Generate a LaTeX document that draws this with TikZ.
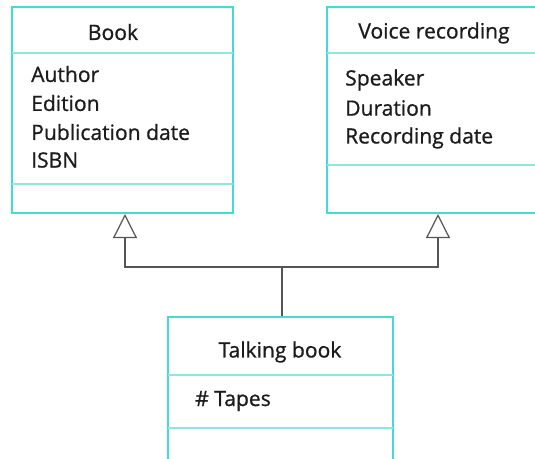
\documentclass[tikz,border=0pt]{standalone}
\usepackage{fontspec}
\setmainfont{Open Sans}
\newfontfamily\classfont[FakeBold=0.8]{Open Sans}
\usepackage{xcolor}
\definecolor{BoxCyan}{HTML}{3FDED2}
\definecolor{RuleCyan}{HTML}{8FE6DE}
\definecolor{LinkGray}{HTML}{555555}
\definecolor{InkBlack}{HTML}{1C1C1C}
\usepackage{tikz}
\usetikzlibrary{arrows.meta}

\begin{document}
\begin{tikzpicture}[x=0.02cm, y=-0.02cm,
  classbox/.style={draw=BoxCyan, line width=1.6pt, inner sep=0pt},
  divider/.style={RuleCyan, line width=0.8pt},
  title/.style={font=\fontsize{12}{14}\classfont, text=InkBlack},
  attr/.style={font=\fontsize{12}{14}\classfont, text=InkBlack, anchor=west},
  inherit/.style={LinkGray, line width=0.7pt,
    -{Triangle[open, length=0.48cm, width=0.48cm]}}]
  % Page frame (pixel grid of the reference, y downwards)
  \clip (0,0) rectangle (535,458);
  \fill[white] (0,0) rectangle (535,458);

  % Class boxes
  \node[classbox, minimum width=4.42cm, minimum height=4.12cm] (book) at (122.5,110) {};
  \node[classbox, minimum width=4.40cm, minimum height=4.12cm] (voice) at (437,110) {};
  \node[classbox, minimum width=4.50cm, minimum height=3.06cm] (talk) at (280.5,393.5) {};

  % Compartment rules
  \draw[divider] (12,53) -- (233,53);
  \draw[divider] (12,184) -- (233,184);
  \draw[divider] (327,53) -- (547,53);
  \draw[divider] (327,165) -- (547,165);
  \draw[divider] (168,375) -- (393,375);
  \draw[divider] (168,428) -- (393,428);

  % Book
  \node[title] (bookname) at (113,32) {Book};
  \node[attr] (author) at (25,74) {Author};
  \node[attr] (edition) at (25,103) {Edition};
  \node[attr] (pubdate) at (25,132) {Publication date};
  \node[attr] (isbn) at (25,160) {ISBN};

  % Voice recording
  \node[title] (voicename) at (434,33) {Voice recording};
  \node[attr] (speaker) at (339,80) {Speaker};
  \node[attr] (duration) at (339,108) {Duration};
  \node[attr] (recdate) at (339,138) {Recording date};

  % Talking book
  \node[title] (talkname) at (280,352) {Talking book};
  \node[attr] (tapes) at (189,401) {\# Tapes};

  % Generalisation links
  \coordinate (fork) at (282,267);
  \coordinate (bookfoot) at (125,214);
  \coordinate (voicefoot) at (438,214);
  \draw[LinkGray, line width=0.7pt] (talk.north -| fork) -- (fork);
  \draw[inherit] (fork) -| (bookfoot);
  \draw[inherit] (fork) -| (voicefoot);
\end{tikzpicture}
\end{document}
